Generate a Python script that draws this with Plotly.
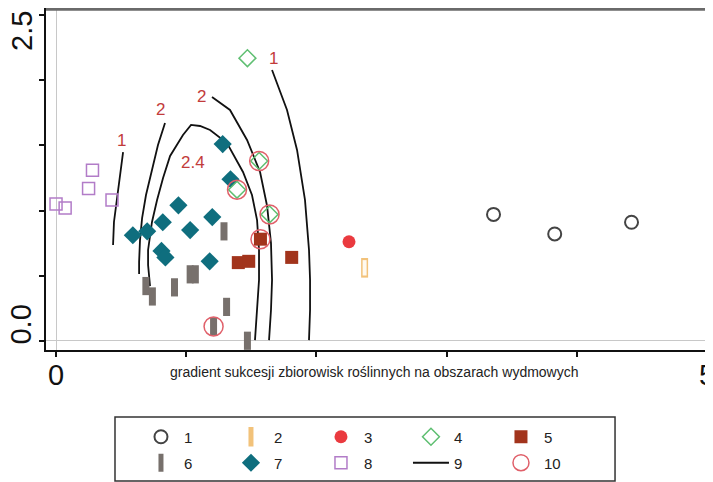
import plotly.graph_objects as go

# ---- data ----
g1_x = [3.36, 3.83, 4.42]
g1_y = [0.97, 0.82, 0.91]
g2_x = [2.37]
g2_y = [0.56]
g3_x = [2.25]
g3_y = [0.76]
g4_x = [1.47, 1.56, 1.39, 1.64]
g4_y = [2.17, 1.38, 1.16, 0.97]
g5_x = [1.57, 1.40, 1.48, 1.81]
g5_y = [0.78, 0.60, 0.61, 0.64]
g6_x = [1.29, 1.03, 1.07, 0.69, 0.74, 0.91, 1.31, 1.21, 1.47]
g6_y = [0.84, 0.51, 0.51, 0.42, 0.34, 0.41, 0.26, 0.11, 0.00]
g7_x = [0.59, 0.70, 0.82, 0.94, 1.03, 1.20, 0.81, 0.84, 1.18, 1.28, 1.34]
g7_y = [0.81, 0.84, 0.91, 1.04, 0.85, 0.95, 0.69, 0.64, 0.61, 1.51, 1.24]
g8_x = [0.28, 0.25, 0.43, 0.00, 0.07]
g8_y = [1.31, 1.17, 1.08, 1.05, 1.02]
g10_x = [1.56, 1.39, 1.64, 1.57, 1.21]
g10_y = [1.38, 1.16, 0.97, 0.78, 0.11]

# contour lines (group 9)
cA_x = [0.515, 0.492, 0.469, 0.445, 0.438]
cA_y = [1.449, 1.273, 1.081, 0.912, 0.735]
cB_x = [0.837, 0.783, 0.737, 0.691, 0.661, 0.645, 0.638, 0.638]
cB_y = [1.672, 1.503, 1.311, 1.119, 0.942, 0.773, 0.604, 0.512]
cC_x = [0.722, 0.707, 0.707, 0.737, 0.776, 0.822, 0.876, 0.929, 0.975, 1.037,
        1.106, 1.183, 1.313, 1.436, 1.505, 1.544, 1.559, 1.559, 1.544, 1.528]
cC_y = [0.420, 0.582, 0.697, 0.912, 1.081, 1.250, 1.419, 1.503, 1.580, 1.657,
        1.649, 1.618, 1.518, 1.296, 1.119, 0.927, 0.697, 0.466, 0.236, 0.005]
cD_x = [1.198, 1.336, 1.467, 1.567, 1.621, 1.651, 1.659, 1.651, 1.636]
cD_y = [1.872, 1.772, 1.542, 1.296, 1.035, 0.751, 0.466, 0.236, 0.005]
cE_x = [1.659, 1.774, 1.851, 1.912, 1.943, 1.951, 1.951, 1.943]
cE_y = [2.079, 1.772, 1.465, 1.081, 0.697, 0.466, 0.236, 0.005]
contours = [(cA_x, cA_y), (cB_x, cB_y), (cC_x, cC_y), (cD_x, cD_y), (cE_x, cE_y)]

clabel_text = ["1", "2", "2", "2.4", "1"]
clabel_x = [0.499, 0.806, 1.114, 1.052, 1.667]
clabel_y = [1.534, 1.772, 1.872, 1.372, 2.171]

x_tickvals = [0, 1, 2, 3, 4, 5]
x_ticktext = ["0", "", "", "", "", "5"]
y_tickvals = [0, 0.5, 1.0, 1.5, 2.0, 2.5]
y_ticktext = ["0.0", "", "", "", "", ""]
y_top_tickvals = [2.5]
y_top_ticktext = ["2.5"]
x_title = "gradient sukcesji zbiorowisk roślinnych na obszarach wydmowych"

FONT = "Liberation Sans, Arial, sans-serif"
fig = go.Figure()

# contour lines (legend item 9)
for i, (cx, cy) in enumerate(contours):
    fig.add_trace(go.Scatter(x=cx, y=cy, mode="lines", name="9",
                             line=dict(color="#111111", width=1.8),
                             showlegend=(i == 0), legend="legend2", legendrank=4,
                             legendgroup="9"))

# 6 grey bars
fig.add_trace(go.Scatter(x=g6_x, y=g6_y, mode="markers", name="6", legend="legend2", legendrank=1,
                         marker=dict(symbol="line-ns", size=13,
                                     line=dict(color="#77706c", width=7))))
# 7 teal diamonds
fig.add_trace(go.Scatter(x=g7_x, y=g7_y, mode="markers", name="7", legend="legend2", legendrank=2,
                         marker=dict(symbol="diamond", size=14, color="#0f6e7e",
                                     line=dict(width=0))))
# 8 purple open squares
fig.add_trace(go.Scatter(x=g8_x, y=g8_y, mode="markers", name="8", legend="legend2", legendrank=3,
                         marker=dict(symbol="square-open", size=12,
                                     color="#b27cc8", line=dict(width=1.5))))
# 1 open circles
fig.add_trace(go.Scatter(x=g1_x, y=g1_y, mode="markers", name="1", legend="legend", legendrank=1,
                         marker=dict(symbol="circle-open", size=13, color="#444444",
                                     line=dict(width=2))))
# 2 orange open bar
fig.add_trace(go.Scatter(x=g2_x, y=g2_y, mode="markers", name="2", legend="legend", legendrank=2,
                         marker=dict(symbol="line-ns", size=14,
                                     line=dict(color="#f2c27a", width=7))))
fig.add_trace(go.Scatter(x=g2_x, y=g2_y, mode="markers", showlegend=False, hoverinfo="skip",
                         marker=dict(symbol="line-ns", size=11,
                                     line=dict(color="#fffaf0", width=4))))
# 3 red dot
fig.add_trace(go.Scatter(x=g3_x, y=g3_y, mode="markers", name="3", legend="legend", legendrank=3,
                         marker=dict(symbol="circle", size=13, color="#ea3a3f")))
# 5 brown squares
fig.add_trace(go.Scatter(x=g5_x, y=g5_y, mode="markers", name="5", legend="legend", legendrank=5,
                         marker=dict(symbol="square", size=13, color="#a2341c")))
# 4 green open diamonds
fig.add_trace(go.Scatter(x=g4_x, y=g4_y, mode="markers", name="4", legend="legend", legendrank=4,
                         marker=dict(symbol="diamond-open", size=13, color="#5fbf72",
                                     line=dict(width=1.5))))
# 10 red rings
fig.add_trace(go.Scatter(x=g10_x, y=g10_y, mode="markers", name="10", legend="legend2", legendrank=5,
                         marker=dict(symbol="circle-open", size=19, color="#e0606a",
                                     line=dict(width=1.5))))
# empty trace so that the secondary y axis (carrying the "2.5" label) is drawn
fig.add_trace(go.Scatter(x=[], y=[], yaxis="y2", mode="markers", showlegend=False,
                         hoverinfo="skip"))

# contour labels
for t, lx, ly in zip(clabel_text, clabel_x, clabel_y):
    fig.add_annotation(x=lx, y=ly, text=t, showarrow=False, xref="x", yref="y",
                       font=dict(family=FONT, size=17, color="#c23b3b"))

# axis title as annotation
fig.add_annotation(x=0.4925, y=-0.0643, xref="paper", yref="paper", text=x_title,
                   showarrow=False, xanchor="center", yanchor="middle",
                   font=dict(family=FONT, size=14, color="#222222"))

# top frame line and legend box
fig.add_shape(type="line", xref="paper", yref="paper", x0=0, x1=1, y0=0.996, y1=0.996,
              line=dict(color="#6a6a6a", width=3))
fig.add_shape(type="rect", xref="paper", yref="paper", x0=0.1036, x1=0.8544,
              y0=-0.1959, y1=-0.3830, line=dict(color="#333333", width=1.5))

legend_common = dict(orientation="h", xanchor="left", yanchor="middle",
                     bgcolor="rgba(0,0,0,0)", borderwidth=0, itemwidth=36,
                     entrywidth=39, traceorder="normal",
                     font=dict(family=FONT, size=15, color="#222222"))

tickfont = dict(family=FONT, size=29, color="#111111")
YRANGE = [-0.071, 2.555]
fig.update_layout(
    width=705, height=474,
    margin=dict(l=38, r=1, t=0, b=132, autoexpand=False),
    paper_bgcolor="white", plot_bgcolor="white",
    font=dict(family=FONT),
    showlegend=True,
    legend=dict(x=0.1381, y=-0.2544, **legend_common),
    legend2=dict(x=0.1381, y=-0.3304, **legend_common),
    xaxis=dict(range=[-0.077, 5.038], tickvals=x_tickvals, ticktext=x_ticktext,
               ticks="outside", ticklen=5, tickwidth=2, tickcolor="#111111",
               showline=True, linecolor="#111111", linewidth=2, automargin=False,
               showgrid=False, zeroline=True, zerolinecolor="#c8c8c8", zerolinewidth=1,
               tickfont=tickfont, ticklabeloverflow="allow", ticklabelstandoff=-7),
    yaxis=dict(range=YRANGE, tickvals=y_tickvals, ticktext=y_ticktext,
               ticks="outside", ticklen=5, tickwidth=2, tickcolor="#111111",
               showline=True, linecolor="#111111", linewidth=2, automargin=False,
               showgrid=False, zeroline=True, zerolinecolor="#c8c8c8", zerolinewidth=1,
               tickangle=-90, tickfont=tickfont,
               ticklabeloverflow="allow", ticklabelstandoff=-4, ticklabelshift=-12),
    yaxis2=dict(range=YRANGE, overlaying="y", side="left", anchor="x",
                tickvals=y_top_tickvals, ticktext=y_top_ticktext,
                ticks="outside", ticklen=5, tickcolor="rgba(0,0,0,0)",
                showline=False, showgrid=False, zeroline=False,
                automargin=False, tickangle=-90, tickfont=tickfont,
                ticklabeloverflow="allow", ticklabelstandoff=-4, ticklabelshift=20),
)

fig.write_html("out.html")
